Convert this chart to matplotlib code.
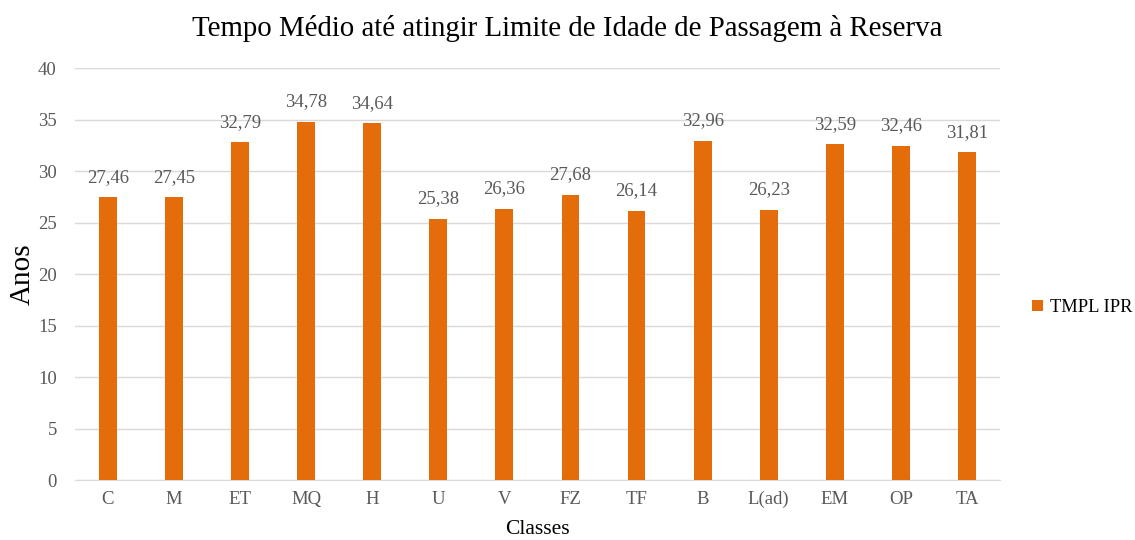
import matplotlib
matplotlib.use("Agg")
import matplotlib.pyplot as plt
import numpy as np

classes = ["C", "M", "ET", "MQ", "H", "U", "V", "FZ", "TF", "B", "L(ad)", "EM", "OP", "TA"]
tmpl_ipr = [27.46, 27.45, 32.79, 34.78, 34.64, 25.38, 26.36, 27.68, 26.14, 32.96, 26.23, 32.59, 32.46, 31.81]
yticks = [0, 5, 10, 15, 20, 25, 30, 35, 40]

plt.rcParams['font.family'] = ['Liberation Serif', 'DejaVu Serif']
grey = "#595959"
orange = "#E46C0A"

fig = plt.figure(figsize=(11.35, 5.4), dpi=100)
ax = fig.add_axes([0.066, 0.111, 0.815, 0.763])

x = np.arange(len(classes))
bars = ax.bar(x, tmpl_ipr, width=0.27, color=orange, label="TMPL IPR", zorder=3)

# valores acima das barras (vírgula decimal)
for xi, v in zip(x, tmpl_ipr):
    ax.text(xi, v + 1.95, "{:.2f}".format(v).replace(".", ","), ha="center", va="center",
            fontsize=13.5, color=grey)

ax.set_xlim(-0.5, len(classes) - 0.5)
ax.set_ylim(0, 40)
ax.set_yticks(yticks)
ax.set_xticks(x)
ax.set_xticklabels(classes)
ax.tick_params(axis="both", length=0, labelsize=13.5, colors=grey)
ax.tick_params(axis="y", pad=13)
ax.tick_params(axis="x", pad=8)
ax.yaxis.grid(True, color="#d9d9d9", linewidth=1, zorder=0)
for s in ["top", "right", "left"]:
    ax.spines[s].set_visible(False)
ax.spines["bottom"].set_color("#d9d9d9")

ax.set_ylabel("Anos", fontsize=21, color="black", labelpad=2)
ax.set_xlabel("Classes", fontsize=15.5, color="black", labelpad=8)
fig.text(0.5, 0.948, "Tempo Médio até atingir Limite de Idade de Passagem à Reserva",
         fontsize=20.8, ha="center", va="center")

fig.legend(handles=[bars], labels=["TMPL IPR"], loc="center left",
           bbox_to_anchor=(0.895, 0.43), frameon=False, fontsize=13.3,
           handlelength=0.55, handleheight=0.55, handletextpad=0.4)

fig.savefig("out.png", dpi=100)
